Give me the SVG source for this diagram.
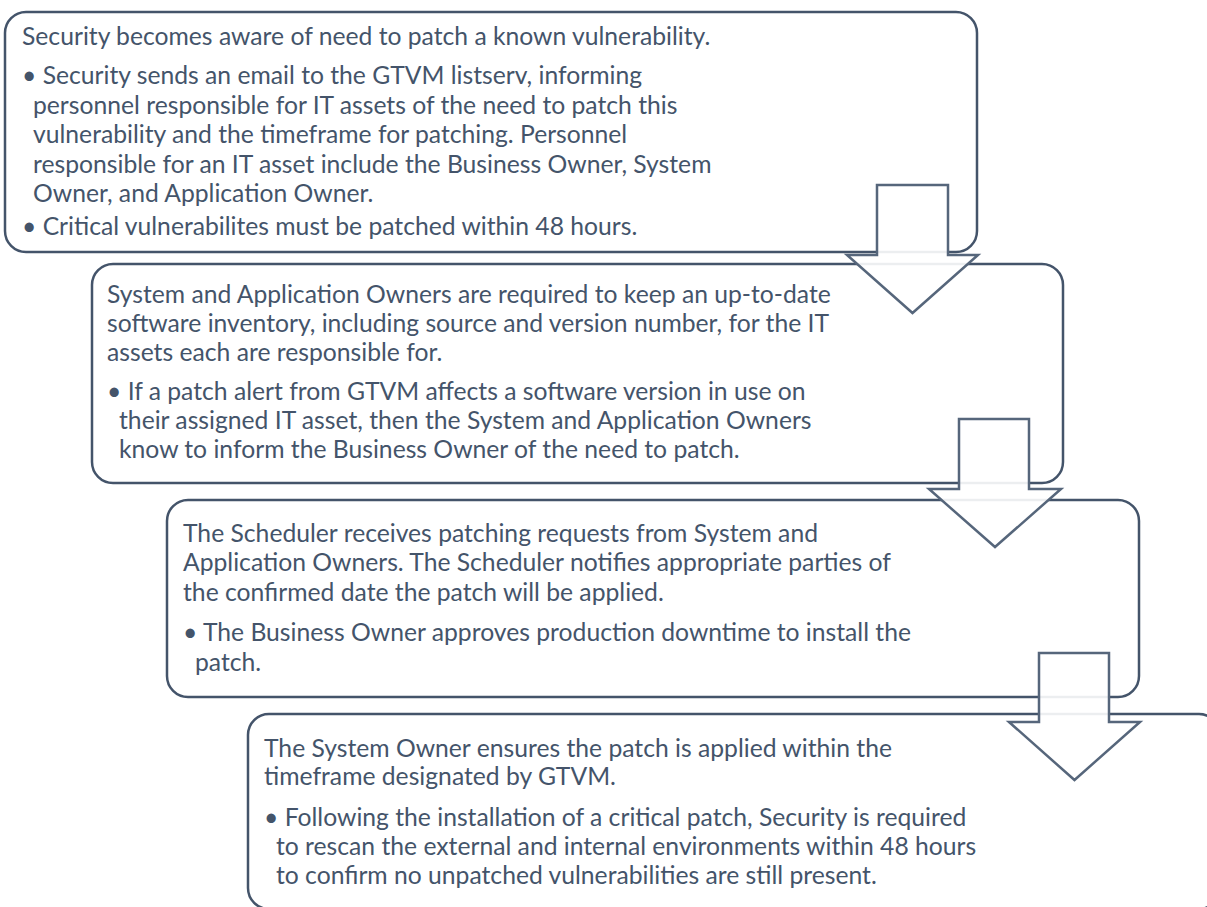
<svg xmlns="http://www.w3.org/2000/svg" width="1207" height="907" viewBox="0 0 1207 907">
<defs>
<style>
.box{fill:#FFFFFF;stroke:#44546A;stroke-width:2.5}
.arr{fill:#FFFFFF;fill-opacity:0.9;stroke:#56667B;stroke-width:2.5;stroke-linejoin:miter}
.t{font-family:Lato,"Open Sans","Liberation Sans",sans-serif;font-size:24.7px;fill:#44546A}
</style>
</defs>
<rect width="1207" height="907" fill="#FFFFFF"/>
<g id="node1">
<rect class="box" x="5" y="12" width="972" height="240" rx="21"/>
<text class="t" x="22" y="45">Security becomes aware of need to patch a known vulnerability.</text>
<text class="t" x="22" y="84">• Security sends an email to the GTVM listserv, informing</text>
<text class="t" x="33" y="113.5">personnel responsible for IT assets of the need to patch this</text>
<text class="t" x="33" y="143">vulnerability and the timeframe for patching. Personnel</text>
<text class="t" x="33" y="172.5">responsible for an IT asset include the Business Owner, System</text>
<text class="t" x="33" y="202">Owner, and Application Owner.</text>
<text class="t" x="22" y="235">• Critical vulnerabilites must be patched within 48 hours.</text>
</g>
<g id="node2">
<rect class="box" x="92" y="264" width="971" height="219" rx="21"/>
<text class="t" x="107" y="303">System and Application Owners are required to keep an up-to-date</text>
<text class="t" x="107" y="332">software inventory, including source and version number, for the IT</text>
<text class="t" x="107" y="361">assets each are responsible for.</text>
<text class="t" x="107" y="400">• If a patch alert from GTVM affects a software version in use on</text>
<text class="t" x="119" y="429">their assigned IT asset, then the System and Application Owners</text>
<text class="t" x="119" y="458">know to inform the Business Owner of the need to patch.</text>
</g>
<g id="node3">
<rect class="box" x="167" y="500" width="972" height="197" rx="21"/>
<text class="t" x="183" y="542">The Scheduler receives patching requests from System and</text>
<text class="t" x="183" y="571">Application Owners. The Scheduler notifies appropriate parties of</text>
<text class="t" x="183" y="601">the confirmed date the patch will be applied.</text>
<text class="t" x="183" y="641">• The Business Owner approves production downtime to install the</text>
<text class="t" x="195" y="671">patch.</text>
</g>
<g id="node4">
<rect class="box" x="248" y="714" width="972" height="195" rx="21"/>
<text class="t" x="264" y="757">The System Owner ensures the patch is applied within the</text>
<text class="t" x="264" y="785">timeframe designated by GTVM.</text>
<text class="t" x="264" y="826">• Following the installation of a critical patch, Security is required</text>
<text class="t" x="276" y="855">to rescan the external and internal environments within 48 hours</text>
<text class="t" x="276" y="884">to confirm no unpatched vulnerabilities are still present.</text>
</g>
<g id="connectors">
<polygon class="arr" points="877,185 948,185 948,255 978,255 912.5,313 847,255 877,255"/>
<polygon class="arr" points="959,419 1029,419 1029,489 1061,489 995,547 929,489 959,489"/>
<polygon class="arr" points="1039,653 1109,653 1109,722 1140,722 1074.5,780 1009,722 1039,722"/>
</g>
</svg>
